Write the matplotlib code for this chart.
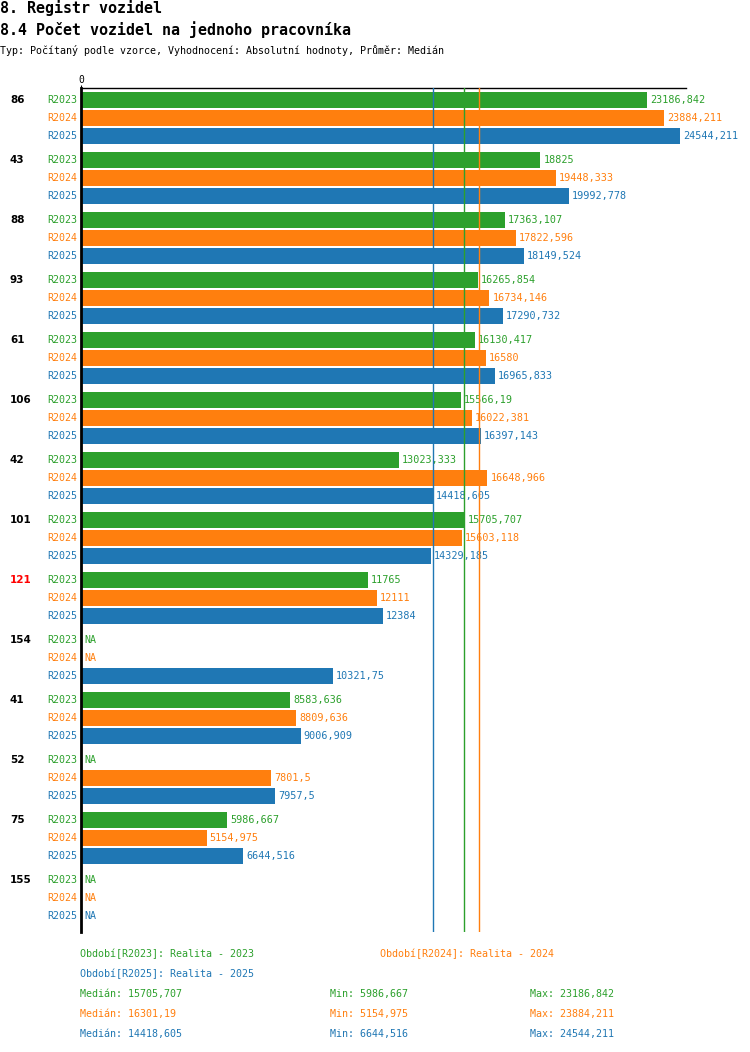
import numpy as np
import matplotlib
matplotlib.use("Agg")
import matplotlib.pyplot as plt
from matplotlib.transforms import blended_transform_factory

plt.rcParams['font.family'] = ['DejaVu Sans Mono', 'DejaVu Sans']

# data
groups = ["86", "43", "88", "93", "61", "106", "42", "101", "121", "154", "41", "52", "75", "155"]
group_colors = ["black"] * 8 + ["red"] + ["black"] * 5
series = ["R2023", "R2024", "R2025"]
colors = ["#2ca02c", "#ff7f0e", "#1f77b4"]
r2023 = [23186.842, 18825, 17363.107, 16265.854, 16130.417, 15566.19, 13023.333,
         15705.707, 11765, None, 8583.636, None, 5986.667, None]
r2024 = [23884.211, 19448.333, 17822.596, 16734.146, 16580, 16022.381, 16648.966,
         15603.118, 12111, None, 8809.636, 7801.5, 5154.975, None]
r2025 = [24544.211, 19992.778, 18149.524, 17290.732, 16965.833, 16397.143, 14418.605,
         14329.185, 12384, 10321.75, 9006.909, 7957.5, 6644.516, None]
values = [r2023, r2024, r2025]
# medians as printed in the footer
medians = [15705.707, 16301.19, 14418.605]
legend_names = ["Období[R2023]: Realita - 2023", "Období[R2024]: Realita - 2024",
                "Období[R2025]: Realita - 2025"]


def fmt(v):
    return ("%.3f" % v).rstrip("0").rstrip(".").replace(".", ",")


W, H = 750, 1052
fig = plt.figure(figsize=(W / 100, H / 100), dpi=100)

def fx(px):
    return px / W

def fy(py):
    return 1 - py / H

# plot area in pixels
left, right, top, bottom = 81, 686, 88, 932
ax = fig.add_axes([fx(left), fy(bottom), fx(right - left), (bottom - top) / H])

ROW = 18
GROUP = 60
BAR_H = 16

all_vals = [v for s in values for v in s if v is not None]
xmax = max(all_vals) * 1.01
ax.set_xlim(0, xmax)
ax.set_ylim(bottom - 100, top - 100)

tr = blended_transform_factory(fig.transFigure, ax.transData)

for g, name in enumerate(groups):
    y0 = g * GROUP
    ax.text(fx(10), y0, name, transform=tr, ha="left", va="center",
            fontsize=7.5, fontweight="bold", color=group_colors[g],
            family="DejaVu Sans")
    for r in range(3):
        y = y0 + r * ROW
        v = values[r][g]
        ax.text(fx(77), y, series[r], transform=tr, ha="right", va="center",
                fontsize=7.2, color=colors[r])
        if v is None:
            ax.text(fx(84), y, "NA", transform=tr, ha="left", va="center",
                    fontsize=7.2, color=colors[r])
        else:
            ax.barh(y, v, height=BAR_H, color=colors[r], zorder=2)
            ax.annotate(fmt(v), (v, y), xytext=(3, 0), textcoords="offset pixels",
                        ha="left", va="center", fontsize=7.3, color=colors[r],
                        annotation_clip=False, zorder=3)

# median lines
for r in range(3):
    ax.axvline(medians[r], color=colors[r], lw=1, zorder=4)

for s in ["right", "bottom"]:
    ax.spines[s].set_visible(False)
ax.spines["left"].set_linewidth(2)
ax.spines["top"].set_linewidth(1)
ax.set_yticks([])
ax.set_xticks([0])
ax.set_xticklabels(["0"])
ax.xaxis.tick_top()
ax.tick_params(axis="x", length=2, labelsize=7, pad=0)

# titles
fig.text(0, fy(8), "8. Registr vozidel", fontsize=10.8, fontweight="bold",
         ha="left", va="center")
fig.text(0, fy(30), "8.4 Počet vozidel na jednoho pracovníka", fontsize=10.8,
         fontweight="bold", ha="left", va="center")
fig.text(0, fy(51), "Typ: Počítaný podle vzorce, Vyhodnocení: Absolutní hodnoty, Průměr: Medián",
         fontsize=7.2, ha="left", va="center")

# legend
fig.text(fx(80), fy(954), legend_names[0], color=colors[0], fontsize=7.2, va="center")
fig.text(fx(380), fy(954), legend_names[1], color=colors[1], fontsize=7.2, va="center")
fig.text(fx(80), fy(974), legend_names[2], color=colors[2], fontsize=7.2, va="center")

for r in range(3):
    vals = [v for v in values[r] if v is not None]
    yy = fy(994 + r * 20)
    fig.text(fx(80), yy, "Medián: " + fmt(medians[r]), color=colors[r], fontsize=7.2, va="center")
    fig.text(fx(330), yy, "Min: " + fmt(min(vals)), color=colors[r], fontsize=7.2, va="center")
    fig.text(fx(530), yy, "Max: " + fmt(max(vals)), color=colors[r], fontsize=7.2, va="center")

fig.savefig("out.png", dpi=100)
